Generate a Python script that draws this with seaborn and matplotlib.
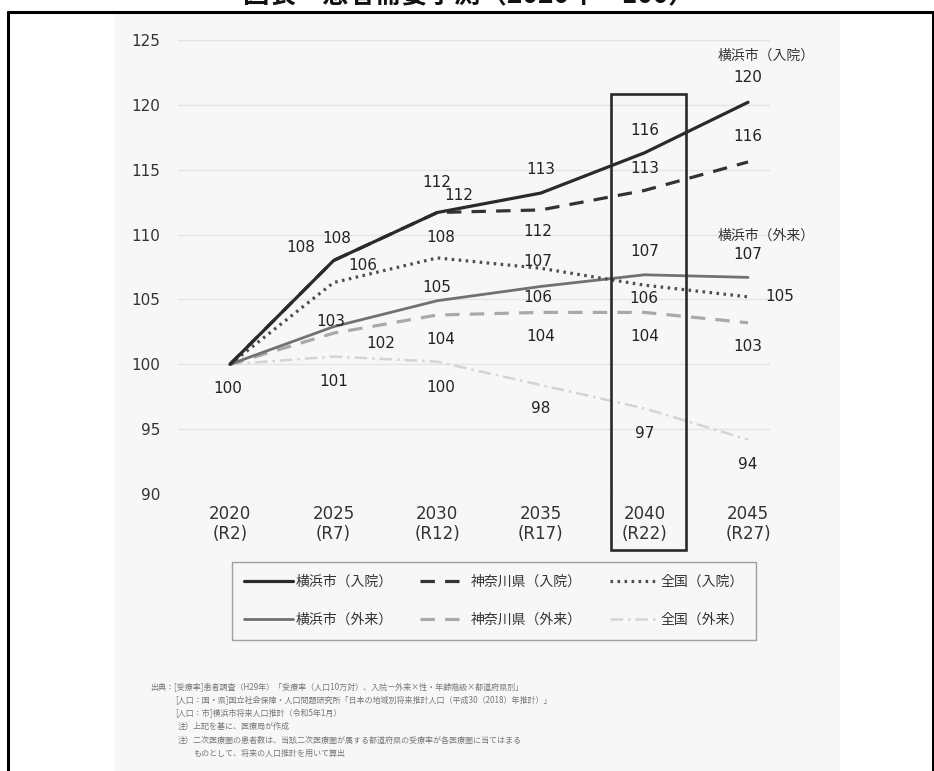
import matplotlib
matplotlib.use("Agg")
import matplotlib.pyplot as plt
from matplotlib.lines import Line2D
from matplotlib.patches import Rectangle
import seaborn as sns
import pandas as pd

# ---------------- data ----------------
years = [2020, 2025, 2030, 2035, 2040, 2045]
year_labels = ["2020\n(R2)", "2025\n(R7)", "2030\n(R12)", "2035\n(R17)", "2040\n(R22)", "2045\n(R27)"]

yokohama_in = [100, 108.0, 111.7, 113.2, 116.3, 120.2]
kanagawa_in = [100, 108.0, 111.7, 111.9, 113.4, 115.6]
national_in = [100, 106.3, 108.2, 107.4, 106.1, 105.2]
yokohama_out = [100, 102.9, 104.9, 106.0, 106.9, 106.7]
kanagawa_out = [100, 102.4, 103.8, 104.0, 104.0, 103.2]
national_out = [100, 100.6, 100.2, 98.4, 96.6, 94.2]

series_names = ["横浜市（入院）", "神奈川県（入院）", "全国（入院）",
                "横浜市（外来）", "神奈川県（外来）", "全国（外来）"]
y_ticks = [90, 95, 100, 105, 110, 115, 120, 125]
highlight_year = 2040

title_text = "図表　患者需要予測（2020年＝100）"
notes = [
    "出典：[受療率]患者調査（H29年）「受療率（人口10万対）、入院－外来×性・年齢階級×都道府県別」",
    "[人口：国・県]国立社会保障・人口問題研究所「日本の地域別将来推計人口（平成30（2018）年推計）」",
    "[人口：市]横浜市将来人口推計（令和5年1月）",
    "注）上記を基に、医療局が作成",
    "注）二次医療圏の患者数は、当該二次医療圏が属する都道府県の受療率が各医療圏に当てはまる",
    "ものとして、将来の人口推計を用いて算出",
]

# ---------------- styles ----------------
styles = {
    "横浜市（入院）": dict(color="#2a2a2a", lw=2.3, ls="-"),
    "神奈川県（入院）": dict(color="#333333", lw=2.3, ls=(0, (4.5, 3.2))),
    "全国（入院）": dict(color="#4d4d4d", lw=2.3, ls=(0, (0.8, 1.4))),
    "横浜市（外来）": dict(color="#717171", lw=2.0, ls="-"),
    "神奈川県（外来）": dict(color="#a9a9a9", lw=2.3, ls=(0, (4.5, 3.2))),
    "全国（外来）": dict(color="#d4d4d4", lw=1.8, ls=(0, (5, 2, 1, 2))),
}
values = {
    "横浜市（入院）": yokohama_in, "神奈川県（入院）": kanagawa_in, "全国（入院）": national_in,
    "横浜市（外来）": yokohama_out, "神奈川県（外来）": kanagawa_out, "全国（外来）": national_out,
}
# label offsets in pixels (dx, dy) for each point; None = no label
offsets = {
    "横浜市（入院）": [None, (3, 22), (0, 30), (0, 24), (0, 22), (0, 25)],
    "神奈川県（入院）": [None, (-33, 13), (22, 17), (-3, -22), (0, 22), (0, 25)],
    "全国（入院）": [None, (29, 17), (4, 20), (-3, 7), (-1, -13), (32, 0)],
    "横浜市（外来）": [None, (-3, 5), (0, 13), (-3, -11), (0, 23), (0, 23)],
    "神奈川県（外来）": [None, (47, -10), (4, -25), (0, -24), (0, -24), (0, -24)],
    "全国（外来）": [(-2, -24), (0, -25), (4, -26), (0, -23), (0, -25), (0, -25)],
}

rows = []
for name in series_names:
    for yr, v in zip(years, values[name]):
        rows.append(dict(year=yr, value=v, series=name))
df = pd.DataFrame(rows)

# ---------------- figure ----------------
sns.set_theme(style="white")
plt.rcParams["font.family"] = ["DejaVu Sans", "Noto Sans CJK JP"]

W, H = 934, 771
fig = plt.figure(figsize=(W / 100, H / 100), dpi=100)
fig.patch.set_facecolor("white")

# picture background and outer frame
fig.add_artist(Rectangle((114 / W, 0), (840 - 114) / W, 1 - 14 / H, transform=fig.transFigure,
                         facecolor="#f7f7f7", edgecolor="none", zorder=-10))
fig.add_artist(Line2D([8 / W, 8 / W], [0, 1 - 12 / H], transform=fig.transFigure, color="black", lw=2.2))
fig.add_artist(Line2D([8 / W, 1], [1 - 12 / H, 1 - 12 / H], transform=fig.transFigure, color="black", lw=2.2))
fig.add_artist(Line2D([932.5 / W, 932.5 / W], [0, 1 - 12 / H], transform=fig.transFigure, color="black", lw=2.2))
fig.text(0.502, 1 - 3 / H, title_text, ha="center", va="baseline", fontsize=19,
         fontweight="bold", family=["Noto Sans CJK JP"], color="#111111")

ax = fig.add_axes([178 / W, (H - 494) / H, (770 - 178) / W, (494 - 40) / H])
ax.set_facecolor("none")
ax.set_xlim(2017.49, 2046.06)
ax.set_ylim(90, 125)

order = ["全国（外来）", "神奈川県（外来）", "横浜市（外来）", "全国（入院）", "神奈川県（入院）", "横浜市（入院）"]
for name in order:
    st = styles[name]
    sub = df[df["series"] == name]
    sns.lineplot(data=sub, x="year", y="value", ax=ax, color=st["color"], linewidth=st["lw"],
                 linestyle=st["ls"], legend=False, zorder=3)

for name in series_names:
    for yr, v, off in zip(years, values[name], offsets[name]):
        if off is None:
            continue
        ax.annotate(f"{round(v)}", (yr, v), xytext=off, textcoords="offset pixels",
                    ha="center", va="center", fontsize=11, color="#222222", zorder=5)

ax.annotate("横浜市（入院）", (years[-1], yokohama_in[-1]), xytext=(18, 47), textcoords="offset pixels",
            ha="center", va="center", fontsize=10, color="#333333", family=["Noto Sans CJK JP"])
ax.annotate("横浜市（外来）", (years[-1], yokohama_out[-1]), xytext=(18, 42), textcoords="offset pixels",
            ha="center", va="center", fontsize=10, color="#333333", family=["Noto Sans CJK JP"])

# highlight box around 2040
ax.add_patch(Rectangle((highlight_year - 1.61, 85.7), 3.61, 120.8 - 85.7, fill=False,
                       edgecolor="#2a2a2a", lw=1.9, clip_on=False, zorder=6))

ax.set_xticks(years)
ax.set_xticklabels(year_labels, fontsize=12, color="#333333", linespacing=1.15)
ax.set_yticks(y_ticks)
ax.set_yticklabels([str(t) for t in y_ticks], fontsize=11, color="#333333")
ax.tick_params(axis="x", length=0, pad=8)
ax.tick_params(axis="y", length=0, pad=13)
ax.set_xlabel("")
ax.set_ylabel("")
ax.grid(axis="y", color="#e4e4e4", lw=1)
ax.grid(axis="x", visible=False)
for sp in ax.spines.values():
    sp.set_visible(False)

# legend
handles = []
labels = []
for name in ["横浜市（入院）", "横浜市（外来）", "神奈川県（入院）", "神奈川県（外来）", "全国（入院）", "全国（外来）"]:
    st = styles[name]
    handles.append(Line2D([], [], color=st["color"], lw=st["lw"], linestyle=st["ls"]))
    labels.append(name)
leg = fig.legend(handles, labels, ncol=3, loc="center", bbox_to_anchor=(494 / W, 1 - 601 / H),
                 frameon=True, fancybox=False, edgecolor="#8a8a8a", facecolor="#f7f7f7",
                 prop={"family": ["Noto Sans CJK JP"], "size": 10}, handlelength=3.5,
                 handletextpad=0.15, columnspacing=2.0, labelspacing=1.75, borderpad=0.9)
leg.get_frame().set_linewidth(1.0)
for t in leg.get_texts():
    t.set_color("#333333")

# notes
note_pos = [(150, 687), (175, 700), (175, 713), (178, 726), (178, 740), (193, 753)]
for txt, (x, y) in zip(notes, note_pos):
    fig.text(x / W, 1 - y / H, txt, ha="left", va="center", fontsize=5.8, color="#777777",
             family=["Noto Sans CJK JP"])

fig.savefig("out.png", dpi=100)
